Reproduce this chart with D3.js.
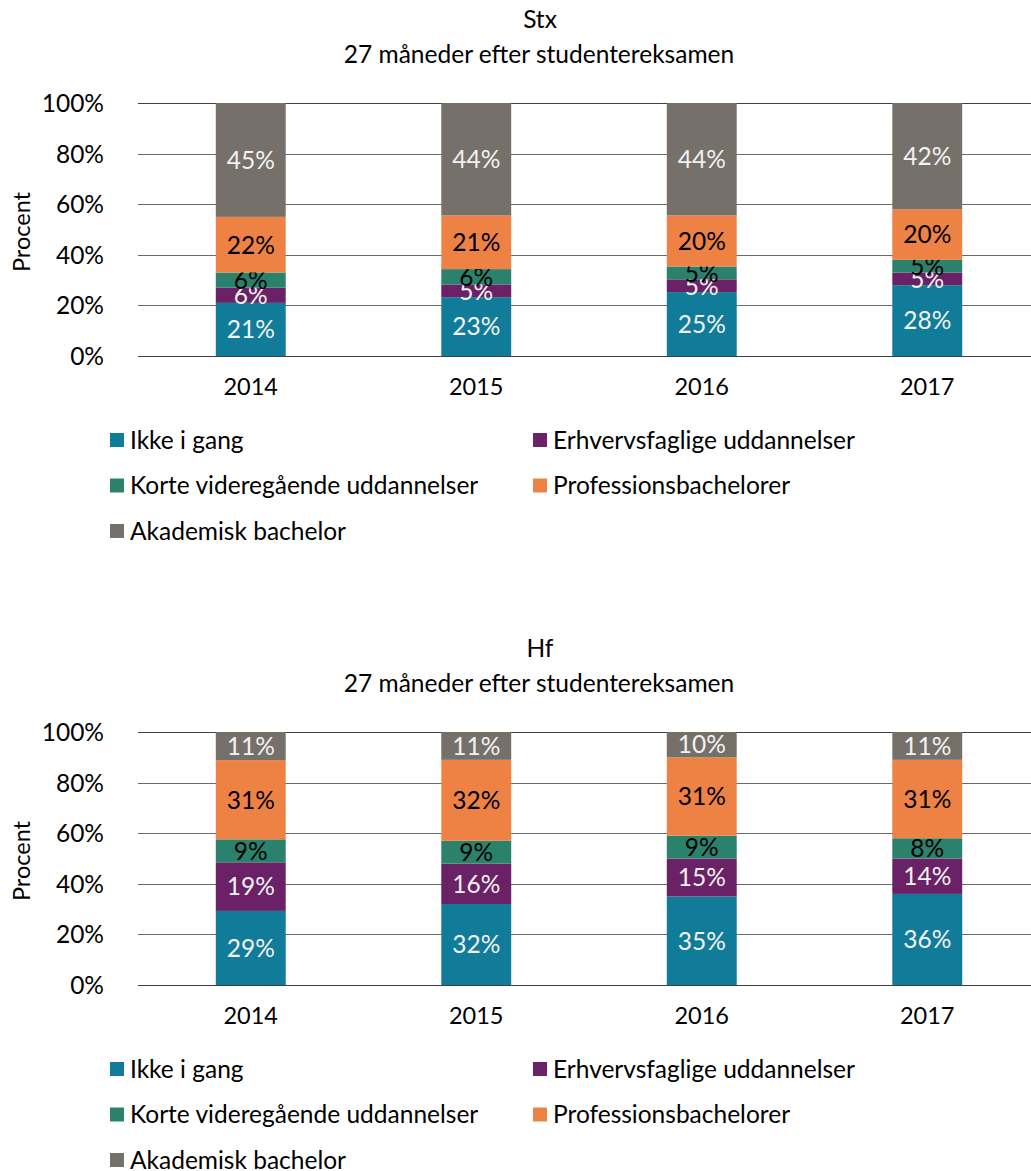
<!DOCTYPE html>
<html>
<head>
<meta charset="utf-8">
<script src="https://cdn.jsdelivr.net/npm/d3@7"></script>
<style>
  body { margin: 0; background: #fff; }
  svg text { font-family: Lato, "Open Sans", sans-serif; }
</style>
</head>
<body>
<svg id="chart" width="1031" height="1171"></svg>
<script>
// years on the x axis
const years = ["2014", "2015", "2016", "2017"];

// series, bottom to top
const series = [
  "Ikke i gang",
  "Erhvervsfaglige uddannelser",
  "Korte videregående uddannelser",
  "Professionsbachelorer",
  "Akademisk bachelor"
];

const colors = ["#107c99", "#6a2166", "#2b826c", "#ed8244", "#76706b"];
const labelColors = ["#f2f2f2", "#f2f2f2", "#000", "#000", "#f2f2f2"];

// percentages per series, one per year
const stxValues = [
  [21, 23, 25, 28],
  [6, 5, 5, 5],
  [6, 6, 5, 5],
  [22, 21, 20, 20],
  [45, 44, 44, 42]
];

const hfValues = [
  [29, 32, 35, 36],
  [19, 16, 15, 14],
  [9, 9, 9, 8],
  [31, 32, 31, 31],
  [11, 11, 10, 11]
];

const yTicks = [0, 0.2, 0.4, 0.6, 0.8, 1];

const svg = d3.select("#chart");
const fs = 23.5;
const fsText = 24.5;

function toRows(values) {
  return years.map((y, i) => {
    let row = { year: y };
    series.forEach((s, k) => { row[s] = values[k][i]; });
    return row;
  });
}

function drawChart(top, title, values) {

  let g = svg.append("g")
    .attr("transform", `translate(0,${top})`);

  let x = d3.scaleBand()
    .domain(years)
    .range([138, 1040])
    .paddingInner(0.69)
    .paddingOuter(0.345);

  let y = d3.scaleLinear()
    .domain([0, 1])
    .range([356, 103]);

  // titles
  g.append("text")
    .attr("x", 540).attr("y", 28)
    .attr("text-anchor", "middle")
    .attr("font-size", fsText)
    .text(title);

  g.append("text")
    .attr("x", 539).attr("y", 63)
    .attr("text-anchor", "middle")
    .attr("font-size", fsText)
    .text("27 måneder efter studentereksamen");

  // gridlines
  g.append("g")
    .selectAll("line")
    .data(yTicks)
    .join("line")
      .attr("x1", 138).attr("x2", 1031)
      .attr("y1", d => Math.round(y(d)) + 0.5)
      .attr("y2", d => Math.round(y(d)) + 0.5)
      .attr("stroke", d => (d === 0 || d === 1) ? "#404040" : "#6a6a6a")
      .attr("stroke-width", 1);

  // y axis labels
  let yAxis = g.append("g")
    .attr("transform", "translate(104,0)")
    .call(d3.axisLeft(y).tickValues(yTicks).tickFormat(d3.format(".0%")).tickSize(0).tickPadding(0));
  yAxis.select(".domain").remove();
  yAxis.selectAll("text")
    .attr("font-size", fsText)
    .attr("fill", "#000")
    .attr("dy", "0.35em");

  g.append("text")
    .attr("transform", "translate(30,232) rotate(-90)")
    .attr("text-anchor", "middle")
    .attr("font-size", fs)
    .text("Procent");

  // x axis labels
  let xAxis = g.append("g")
    .attr("transform", "translate(0,356)")
    .call(d3.axisBottom(x).tickSize(0).tickPadding(0));
  xAxis.select(".domain").remove();
  xAxis.selectAll("text")
    .attr("font-size", fs)
    .attr("fill", "#000")
    .attr("dy", "1.65em");

  // stacked bars
  let stack = d3.stack()
    .keys(series)
    .offset(d3.stackOffsetExpand);

  let layers = stack(toRows(values));

  let layerSel = g.append("g")
    .selectAll("g.layer")
    .data(layers)
    .join("g")
      .classed("layer", true)
      .attr("fill", (d, i) => colors[i]);

  layerSel.selectAll("rect")
    .data(d => d)
    .join("rect")
      .attr("x", d => x(d.data.year))
      .attr("width", x.bandwidth())
      .attr("y", d => y(d[1]))
      .attr("height", d => y(d[0]) - y(d[1]));

  layerSel.each(function(layer, k) {
    d3.select(this).selectAll("text")
      .data(layer)
      .join("text")
        .attr("x", d => x(d.data.year) + x.bandwidth() / 2)
        .attr("y", d => (y(d[0]) + y(d[1])) / 2)
        .attr("dy", "0.36em")
        .attr("text-anchor", "middle")
        .attr("font-size", fsText)
        .attr("fill", labelColors[k])
        .text(d => d.data[layer.key] + "%");
  });

  // legend
  let legend = g.append("g")
    .selectAll("g")
    .data(series)
    .join("g")
      .attr("transform", (d, i) => `translate(${i % 2 ? 533 : 110},${440 + Math.floor(i / 2) * 45.5})`);

  legend.append("rect")
    .attr("x", 0).attr("y", -7)
    .attr("width", 14).attr("height", 14)
    .attr("fill", (d, i) => colors[i]);

  legend.append("text")
    .attr("x", 20)
    .attr("dy", "0.36em")
    .attr("font-size", fsText)
    .text(d => d);
}

drawChart(0, "Stx", stxValues);
drawChart(629, "Hf", hfValues);
</script>
</body>
</html>
